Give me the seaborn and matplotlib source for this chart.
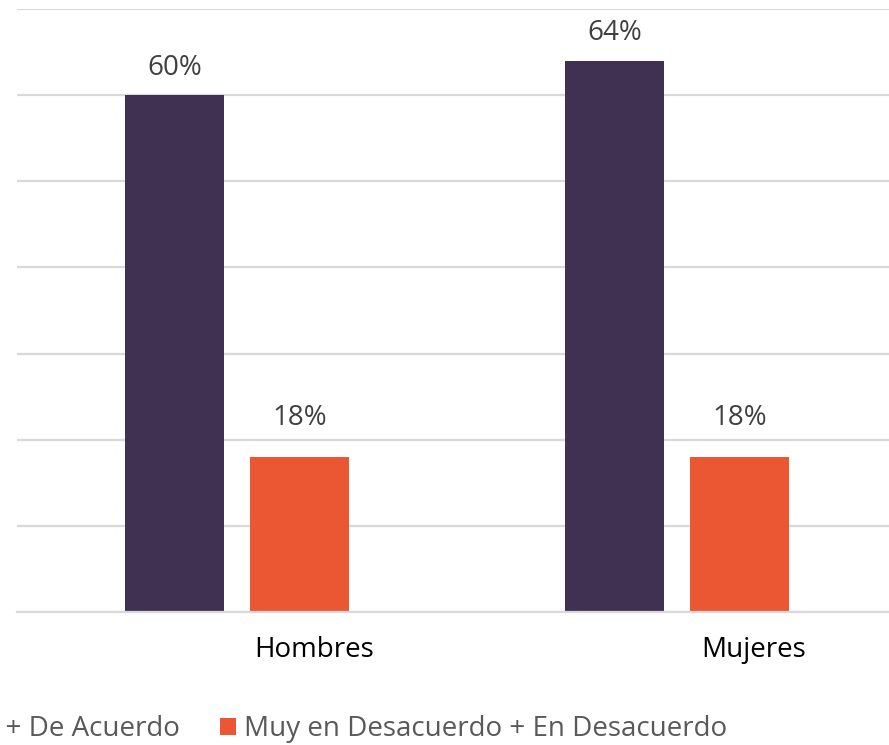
import matplotlib
matplotlib.use('Agg')
import matplotlib.pyplot as plt
import matplotlib.transforms as mtransforms
import seaborn as sns
import pandas as pd

categories = ['Hombres', 'Mujeres']
series = ['Muy de Acuerdo + De Acuerdo', 'Muy en Desacuerdo + En Desacuerdo']
acuerdo = [60, 64]
desacuerdo = [18, 18]
colors = ['#403152', '#EB5733']

df = pd.DataFrame({
    'grupo': categories * 2,
    'serie': [series[0]] * 2 + [series[1]] * 2,
    'valor': acuerdo + desacuerdo,
})

sns.set_theme(style='white')
plt.rcParams['font.family'] = ['Open Sans', 'DejaVu Sans']

fig = plt.figure(figsize=(8.89, 7.45), dpi=100)
# axes runs a bit past the right edge, like the cropped original
ax = fig.add_axes([17 / 889, 133 / 745, 880 / 889, 603 / 745])

sns.barplot(data=df, x='grupo', y='valor', hue='serie', palette=colors,
            width=0.569, gap=0.21, saturation=1, ax=ax, legend=True,
            linewidth=0)

# data labels, the short bars' labels sit a bit higher
for cont, pad in zip(ax.containers, [9.5, 18]):
    ax.bar_label(cont, fmt='%.0f%%', padding=pad, fontsize=20, color='#404040')

ax.set_xlim(-0.5, 1.5)
ax.set_ylim(0, 70)
ax.set_yticks(range(0, 71, 10))
ax.set_yticklabels([])
ax.yaxis.grid(True, color='#d9d9d9', linewidth=1.6)
ax.set_axisbelow(True)
for s in ['top', 'right', 'left']:
    ax.spines[s].set_visible(False)
ax.spines['bottom'].set_color('#d9d9d9')
ax.spines['bottom'].set_linewidth(1.6)
ax.tick_params(axis='y', length=0)
ax.tick_params(axis='x', length=0, pad=17, labelsize=20, labelcolor='black')
ax.set_xlabel('')
ax.set_ylabel('')

offset = mtransforms.ScaledTranslation(0.77, 0, fig.dpi_scale_trans)
for lab in ax.get_xticklabels():
    lab.set_transform(lab.get_transform() + offset)

handles, labels = ax.get_legend_handles_labels()
ax.get_legend().remove()
fig.legend(handles, labels, loc='center right', bbox_to_anchor=(727 / 889, 16 / 745),
           ncol=2, frameon=False, fontsize=20, labelcolor='#595959',
           handlelength=0.55, handleheight=0.55, handletextpad=0.3,
           columnspacing=1.45, borderpad=0, borderaxespad=0)

fig.savefig('out.png', dpi=100)
